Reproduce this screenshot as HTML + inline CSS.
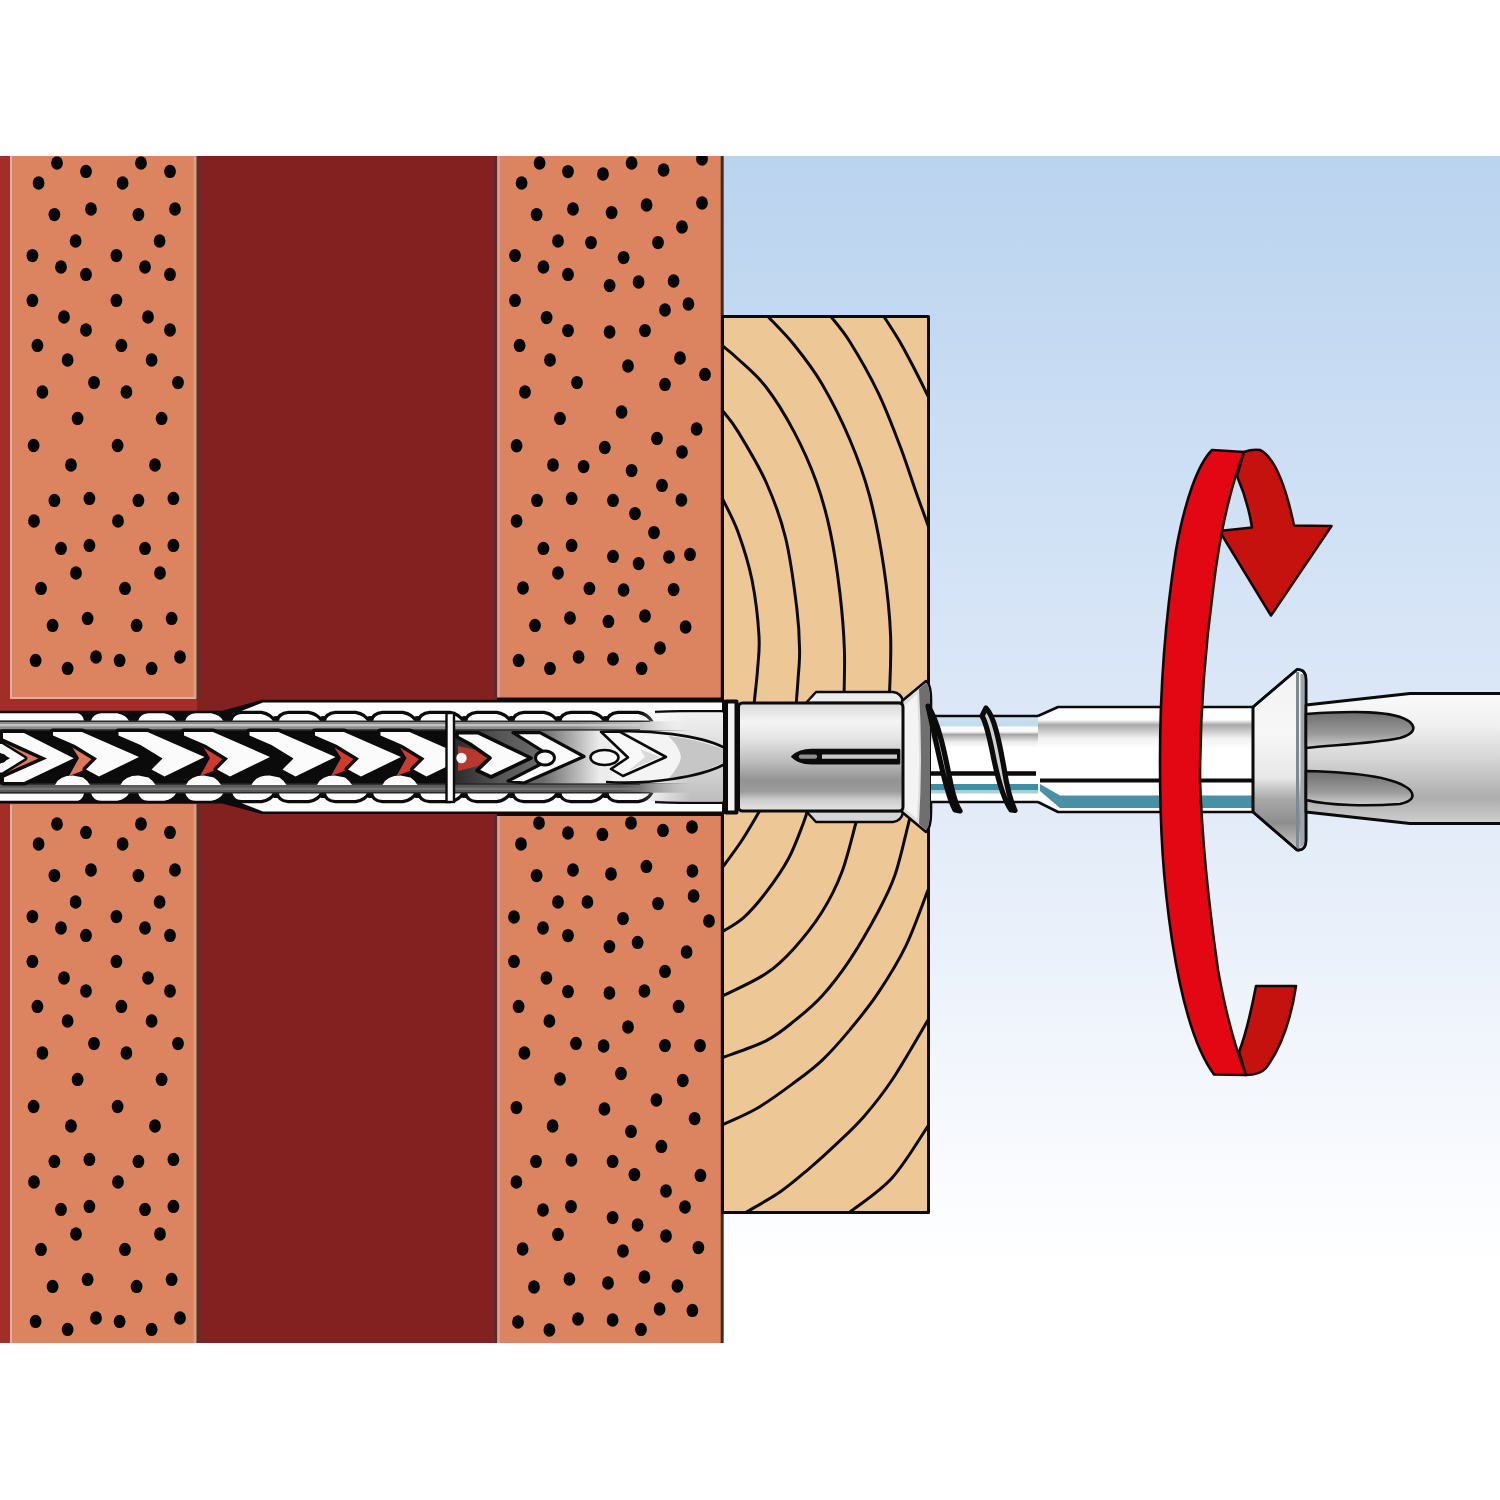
<!DOCTYPE html>
<html lang="en">
<head>
<meta charset="utf-8">
<title>Frame fixing installation – tighten screw</title>
<style>
html,body{margin:0;padding:0;background:#fff;}
body{width:1500px;height:1500px;overflow:hidden;position:relative;font-family:"Liberation Sans",sans-serif;}
svg{position:absolute;left:0;top:0;display:block;}
</style>
</head>
<body>
<svg width="1500" height="1500" viewBox="0 0 1500 1500">
<defs>
<linearGradient id="sky" x1="0" y1="156" x2="0" y2="1343" gradientUnits="userSpaceOnUse">
<stop offset="0" stop-color="#bad3ef"/><stop offset="0.3" stop-color="#d0e1f5"/><stop offset="0.55" stop-color="#e2ebf8"/><stop offset="0.8" stop-color="#f5f8fd"/><stop offset="0.94" stop-color="#ffffff"/>
</linearGradient>
<linearGradient id="metal" x1="0" y1="702" x2="0" y2="811" gradientUnits="userSpaceOnUse">
<stop offset="0" stop-color="#d6d6d6"/><stop offset="0.18" stop-color="#f5f5f5"/><stop offset="0.34" stop-color="#e4e4e4"/><stop offset="0.55" stop-color="#bcbcbc"/><stop offset="0.72" stop-color="#939393"/><stop offset="0.82" stop-color="#9c9c9c"/><stop offset="0.9" stop-color="#cdcdcd"/><stop offset="1" stop-color="#e6e6e6"/>
</linearGradient>
<linearGradient id="shank" x1="0" y1="707" x2="0" y2="812" gradientUnits="userSpaceOnUse">
<stop offset="0" stop-color="#ffffff"/><stop offset="0.12" stop-color="#ffffff"/><stop offset="0.17" stop-color="#a9a9a9"/><stop offset="0.3" stop-color="#f2f2f2"/><stop offset="0.4" stop-color="#ffffff"/><stop offset="1" stop-color="#ffffff"/>
</linearGradient>
<linearGradient id="thin" x1="0" y1="716" x2="0" y2="802" gradientUnits="userSpaceOnUse">
<stop offset="0" stop-color="#cfe2f1"/><stop offset="0.11" stop-color="#c0daee"/><stop offset="0.13" stop-color="#ffffff"/><stop offset="0.185" stop-color="#f4f4f4"/><stop offset="0.215" stop-color="#a4a4a4"/><stop offset="0.3" stop-color="#ebebeb"/><stop offset="0.37" stop-color="#ffffff"/><stop offset="1" stop-color="#ffffff"/>
</linearGradient>
<linearGradient id="head" x1="0" y1="669" x2="0" y2="850" gradientUnits="userSpaceOnUse">
<stop offset="0" stop-color="#f2f2f2"/><stop offset="0.35" stop-color="#f7f7f7"/><stop offset="0.6" stop-color="#e8e8e8"/><stop offset="0.72" stop-color="#a8a8a8"/><stop offset="0.85" stop-color="#8e8e8e"/><stop offset="1" stop-color="#c9c9c9"/>
</linearGradient>
<linearGradient id="bit" x1="0" y1="693" x2="0" y2="824" gradientUnits="userSpaceOnUse">
<stop offset="0" stop-color="#fafafa"/><stop offset="0.25" stop-color="#f0f0f0"/><stop offset="0.5" stop-color="#d6d6d6"/><stop offset="0.8" stop-color="#adadad"/><stop offset="1" stop-color="#d0d0d0"/>
</linearGradient>
<linearGradient id="flute" x1="0" y1="0" x2="0" y2="1">
<stop offset="0" stop-color="#6e6e6e"/><stop offset="0.6" stop-color="#9a9a9a"/><stop offset="1" stop-color="#cfcfcf"/>
</linearGradient>
<linearGradient id="gbt" x1="0" y1="0" x2="722" y2="0" gradientUnits="userSpaceOnUse"><stop offset="0" stop-color="#8d8d8d"/><stop offset="0.8" stop-color="#8d8d8d"/><stop offset="0.9" stop-color="#c8c8c8"/><stop offset="0.94" stop-color="#f6f6f6"/><stop offset="1" stop-color="#f6f6f6"/></linearGradient>
<linearGradient id="gbb" x1="0" y1="0" x2="722" y2="0" gradientUnits="userSpaceOnUse"><stop offset="0" stop-color="#5a5a5a"/><stop offset="0.86" stop-color="#5c5c5c"/><stop offset="0.94" stop-color="#a8a8a8"/><stop offset="1" stop-color="#c4c4c4"/></linearGradient>
<linearGradient id="rsec" x1="455" y1="0" x2="723" y2="0" gradientUnits="userSpaceOnUse"><stop offset="0" stop-color="#2c2c2c"/><stop offset="0.17" stop-color="#565656"/><stop offset="0.33" stop-color="#6c6c6c"/><stop offset="0.45" stop-color="#b4b4b4"/><stop offset="0.54" stop-color="#ececec"/><stop offset="1" stop-color="#f2f2f2"/></linearGradient>
<linearGradient id="rend" x1="0" y1="712" x2="0" y2="802" gradientUnits="userSpaceOnUse"><stop offset="0" stop-color="#f2f2f2"/><stop offset="0.25" stop-color="#e4e4e4"/><stop offset="0.7" stop-color="#cfcfcf"/><stop offset="1" stop-color="#bdbdbd"/></linearGradient>
<linearGradient id="rfade" x1="640" y1="0" x2="690" y2="0" gradientUnits="userSpaceOnUse"><stop offset="0" stop-color="#000"/><stop offset="1" stop-color="#fff"/></linearGradient>
<mask id="rmask" maskUnits="userSpaceOnUse" x="630" y="700" width="100" height="120"><rect x="630" y="700" width="100" height="120" fill="url(#rfade)"/></mask>
<clipPath id="leftsec"><rect x="0" y="728" width="447" height="58"/></clipPath>
<clipPath id="frame"><rect x="0" y="156" width="1500" height="1187"/></clipPath>
<clipPath id="woodclip"><rect x="723" y="317" width="205" height="895"/></clipPath>
</defs>

<rect x="0" y="0" width="1500" height="1500" fill="#ffffff"/>
<g clip-path="url(#frame)">
<!-- sky -->
<rect x="722" y="156" width="778" height="1187" fill="url(#sky)"/>
<!-- wall base -->
<rect x="0" y="156" width="198" height="1187" fill="#a32e27"/>
<rect x="197" y="156" width="301" height="1187" fill="#822120"/>
<!-- bricks -->
<rect x="10" y="150" width="187" height="548.5" fill="#dc8360"/>
<rect x="10" y="804" width="187" height="560" fill="#dc8360"/>
<path d="M11,156V698H196" fill="none" stroke="#d9b5a0" stroke-width="2"/>
<path d="M11,1343V805" fill="none" stroke="#d9b5a0" stroke-width="2"/>
<path d="M194.8,156V698M194.8,805V1343" fill="none" stroke="#d3a28c" stroke-width="2.4"/><path d="M198.4,156V699M198.4,804V1343" fill="none" stroke="#5a302c" stroke-width="3.6"/>
<rect x="497" y="150" width="226" height="552" fill="#dc8360"/>
<rect x="497" y="812" width="226" height="542" fill="#dc8360"/>
<path d="M495.6,156V698M495.6,815V1343" fill="none" stroke="#5c2a28" stroke-width="3"/><path d="M498.6,156V698M498.6,815V1343" fill="none" stroke="#d7a58f" stroke-width="2.4"/>
<path d="M722.2,156V1343" fill="none" stroke="#3a2e2a" stroke-width="3"/>
<path d="M497,699H723M497,814.6H723" fill="none" stroke="#120b09" stroke-width="3"/>
<g fill="#050505"><ellipse cx="57.0" cy="163.0" rx="5.9" ry="6.7"/><ellipse cx="141.0" cy="163.0" rx="5.9" ry="6.7"/><ellipse cx="86.0" cy="171.4" rx="5.9" ry="6.7"/><ellipse cx="170.0" cy="171.4" rx="5.9" ry="6.7"/><ellipse cx="38.6" cy="183.0" rx="5.9" ry="6.7"/><ellipse cx="122.6" cy="183.0" rx="5.9" ry="6.7"/><ellipse cx="54.4" cy="214.6" rx="5.9" ry="6.7"/><ellipse cx="138.4" cy="214.6" rx="5.9" ry="6.7"/><ellipse cx="91.0" cy="209.0" rx="5.9" ry="6.7"/><ellipse cx="175.0" cy="209.0" rx="5.9" ry="6.7"/><ellipse cx="75.6" cy="241.0" rx="5.9" ry="6.7"/><ellipse cx="159.6" cy="241.0" rx="5.9" ry="6.7"/><ellipse cx="32.4" cy="255.6" rx="5.9" ry="6.7"/><ellipse cx="116.4" cy="255.6" rx="5.9" ry="6.7"/><ellipse cx="61.0" cy="267.0" rx="5.9" ry="6.7"/><ellipse cx="145.0" cy="267.0" rx="5.9" ry="6.7"/><ellipse cx="86.0" cy="274.4" rx="5.9" ry="6.7"/><ellipse cx="170.0" cy="274.4" rx="5.9" ry="6.7"/><ellipse cx="32.4" cy="300.4" rx="5.9" ry="6.7"/><ellipse cx="116.4" cy="300.4" rx="5.9" ry="6.7"/><ellipse cx="64.0" cy="317.0" rx="5.9" ry="6.7"/><ellipse cx="148.0" cy="317.0" rx="5.9" ry="6.7"/><ellipse cx="86.0" cy="330.0" rx="5.9" ry="6.7"/><ellipse cx="170.0" cy="330.0" rx="5.9" ry="6.7"/><ellipse cx="37.4" cy="345.4" rx="5.9" ry="6.7"/><ellipse cx="121.4" cy="345.4" rx="5.9" ry="6.7"/><ellipse cx="67.6" cy="360.0" rx="5.9" ry="6.7"/><ellipse cx="151.6" cy="360.0" rx="5.9" ry="6.7"/><ellipse cx="94.0" cy="382.6" rx="5.9" ry="6.7"/><ellipse cx="178.0" cy="382.6" rx="5.9" ry="6.7"/><ellipse cx="42.4" cy="392.0" rx="5.9" ry="6.7"/><ellipse cx="126.4" cy="392.0" rx="5.9" ry="6.7"/><ellipse cx="77.6" cy="418.4" rx="5.9" ry="6.7"/><ellipse cx="161.6" cy="418.4" rx="5.9" ry="6.7"/><ellipse cx="33.6" cy="445.5" rx="5.9" ry="6.7"/><ellipse cx="117.6" cy="445.5" rx="5.9" ry="6.7"/><ellipse cx="71.0" cy="465.0" rx="5.9" ry="6.7"/><ellipse cx="155.0" cy="465.0" rx="5.9" ry="6.7"/><ellipse cx="54.4" cy="500.4" rx="5.9" ry="6.7"/><ellipse cx="138.4" cy="500.4" rx="5.9" ry="6.7"/><ellipse cx="89.4" cy="498.4" rx="5.9" ry="6.7"/><ellipse cx="173.4" cy="498.4" rx="5.9" ry="6.7"/><ellipse cx="34.0" cy="521.0" rx="5.9" ry="6.7"/><ellipse cx="118.0" cy="521.0" rx="5.9" ry="6.7"/><ellipse cx="61.0" cy="548.4" rx="5.9" ry="6.7"/><ellipse cx="145.0" cy="548.4" rx="5.9" ry="6.7"/><ellipse cx="89.4" cy="545.4" rx="5.9" ry="6.7"/><ellipse cx="173.4" cy="545.4" rx="5.9" ry="6.7"/><ellipse cx="76.0" cy="573.0" rx="5.9" ry="6.7"/><ellipse cx="160.0" cy="573.0" rx="5.9" ry="6.7"/><ellipse cx="41.0" cy="588.4" rx="5.9" ry="6.7"/><ellipse cx="125.0" cy="588.4" rx="5.9" ry="6.7"/><ellipse cx="87.6" cy="618.4" rx="5.9" ry="6.7"/><ellipse cx="171.6" cy="618.4" rx="5.9" ry="6.7"/><ellipse cx="52.6" cy="625.4" rx="5.9" ry="6.7"/><ellipse cx="136.6" cy="625.4" rx="5.9" ry="6.7"/><ellipse cx="35.6" cy="660.4" rx="5.9" ry="6.7"/><ellipse cx="119.6" cy="660.4" rx="5.9" ry="6.7"/><ellipse cx="96.0" cy="657.0" rx="5.9" ry="6.7"/><ellipse cx="180.0" cy="657.0" rx="5.9" ry="6.7"/><ellipse cx="67.6" cy="668.4" rx="5.9" ry="6.7"/><ellipse cx="151.6" cy="668.4" rx="5.9" ry="6.7"/><ellipse cx="57.0" cy="824.0" rx="5.9" ry="6.7"/><ellipse cx="141.0" cy="824.0" rx="5.9" ry="6.7"/><ellipse cx="86.0" cy="832.4" rx="5.9" ry="6.7"/><ellipse cx="170.0" cy="832.4" rx="5.9" ry="6.7"/><ellipse cx="38.6" cy="844.0" rx="5.9" ry="6.7"/><ellipse cx="122.6" cy="844.0" rx="5.9" ry="6.7"/><ellipse cx="54.4" cy="875.6" rx="5.9" ry="6.7"/><ellipse cx="138.4" cy="875.6" rx="5.9" ry="6.7"/><ellipse cx="91.0" cy="870.0" rx="5.9" ry="6.7"/><ellipse cx="175.0" cy="870.0" rx="5.9" ry="6.7"/><ellipse cx="75.6" cy="902.0" rx="5.9" ry="6.7"/><ellipse cx="159.6" cy="902.0" rx="5.9" ry="6.7"/><ellipse cx="32.4" cy="916.6" rx="5.9" ry="6.7"/><ellipse cx="116.4" cy="916.6" rx="5.9" ry="6.7"/><ellipse cx="61.0" cy="928.0" rx="5.9" ry="6.7"/><ellipse cx="145.0" cy="928.0" rx="5.9" ry="6.7"/><ellipse cx="86.0" cy="935.4" rx="5.9" ry="6.7"/><ellipse cx="170.0" cy="935.4" rx="5.9" ry="6.7"/><ellipse cx="32.4" cy="961.4" rx="5.9" ry="6.7"/><ellipse cx="116.4" cy="961.4" rx="5.9" ry="6.7"/><ellipse cx="64.0" cy="978.0" rx="5.9" ry="6.7"/><ellipse cx="148.0" cy="978.0" rx="5.9" ry="6.7"/><ellipse cx="86.0" cy="991.0" rx="5.9" ry="6.7"/><ellipse cx="170.0" cy="991.0" rx="5.9" ry="6.7"/><ellipse cx="37.4" cy="1006.4" rx="5.9" ry="6.7"/><ellipse cx="121.4" cy="1006.4" rx="5.9" ry="6.7"/><ellipse cx="67.6" cy="1021.0" rx="5.9" ry="6.7"/><ellipse cx="151.6" cy="1021.0" rx="5.9" ry="6.7"/><ellipse cx="94.0" cy="1043.6" rx="5.9" ry="6.7"/><ellipse cx="178.0" cy="1043.6" rx="5.9" ry="6.7"/><ellipse cx="42.4" cy="1053.0" rx="5.9" ry="6.7"/><ellipse cx="126.4" cy="1053.0" rx="5.9" ry="6.7"/><ellipse cx="77.6" cy="1079.4" rx="5.9" ry="6.7"/><ellipse cx="161.6" cy="1079.4" rx="5.9" ry="6.7"/><ellipse cx="33.6" cy="1106.5" rx="5.9" ry="6.7"/><ellipse cx="117.6" cy="1106.5" rx="5.9" ry="6.7"/><ellipse cx="71.0" cy="1126.0" rx="5.9" ry="6.7"/><ellipse cx="155.0" cy="1126.0" rx="5.9" ry="6.7"/><ellipse cx="54.4" cy="1161.4" rx="5.9" ry="6.7"/><ellipse cx="138.4" cy="1161.4" rx="5.9" ry="6.7"/><ellipse cx="89.4" cy="1159.4" rx="5.9" ry="6.7"/><ellipse cx="173.4" cy="1159.4" rx="5.9" ry="6.7"/><ellipse cx="34.0" cy="1182.0" rx="5.9" ry="6.7"/><ellipse cx="118.0" cy="1182.0" rx="5.9" ry="6.7"/><ellipse cx="61.0" cy="1209.4" rx="5.9" ry="6.7"/><ellipse cx="145.0" cy="1209.4" rx="5.9" ry="6.7"/><ellipse cx="89.4" cy="1206.4" rx="5.9" ry="6.7"/><ellipse cx="173.4" cy="1206.4" rx="5.9" ry="6.7"/><ellipse cx="76.0" cy="1234.0" rx="5.9" ry="6.7"/><ellipse cx="160.0" cy="1234.0" rx="5.9" ry="6.7"/><ellipse cx="41.0" cy="1249.4" rx="5.9" ry="6.7"/><ellipse cx="125.0" cy="1249.4" rx="5.9" ry="6.7"/><ellipse cx="87.6" cy="1279.4" rx="5.9" ry="6.7"/><ellipse cx="171.6" cy="1279.4" rx="5.9" ry="6.7"/><ellipse cx="52.6" cy="1286.4" rx="5.9" ry="6.7"/><ellipse cx="136.6" cy="1286.4" rx="5.9" ry="6.7"/><ellipse cx="35.6" cy="1321.4" rx="5.9" ry="6.7"/><ellipse cx="119.6" cy="1321.4" rx="5.9" ry="6.7"/><ellipse cx="96.0" cy="1318.0" rx="5.9" ry="6.7"/><ellipse cx="180.0" cy="1318.0" rx="5.9" ry="6.7"/><ellipse cx="67.6" cy="1329.4" rx="5.9" ry="6.7"/><ellipse cx="151.6" cy="1329.4" rx="5.9" ry="6.7"/><ellipse cx="539.6" cy="163.0" rx="5.9" ry="6.7"/><ellipse cx="631.6" cy="163.0" rx="5.9" ry="6.7"/><ellipse cx="702.0" cy="159.0" rx="5.9" ry="6.7"/><ellipse cx="568.0" cy="171.6" rx="5.9" ry="6.7"/><ellipse cx="603.0" cy="174.0" rx="5.9" ry="6.7"/><ellipse cx="663.6" cy="170.0" rx="5.9" ry="6.7"/><ellipse cx="521.6" cy="183.0" rx="5.9" ry="6.7"/><ellipse cx="573.0" cy="209.0" rx="5.9" ry="6.7"/><ellipse cx="536.6" cy="214.6" rx="5.9" ry="6.7"/><ellipse cx="611.6" cy="212.6" rx="5.9" ry="6.7"/><ellipse cx="646.6" cy="205.0" rx="5.9" ry="6.7"/><ellipse cx="702.0" cy="203.0" rx="5.9" ry="6.7"/><ellipse cx="682.0" cy="227.0" rx="5.9" ry="6.7"/><ellipse cx="558.0" cy="241.0" rx="5.9" ry="6.7"/><ellipse cx="591.0" cy="242.6" rx="5.9" ry="6.7"/><ellipse cx="658.0" cy="242.6" rx="5.9" ry="6.7"/><ellipse cx="515.0" cy="255.6" rx="5.9" ry="6.7"/><ellipse cx="623.6" cy="257.6" rx="5.9" ry="6.7"/><ellipse cx="543.4" cy="267.0" rx="5.9" ry="6.7"/><ellipse cx="568.0" cy="274.4" rx="5.9" ry="6.7"/><ellipse cx="609.6" cy="285.6" rx="5.9" ry="6.7"/><ellipse cx="638.6" cy="282.0" rx="5.9" ry="6.7"/><ellipse cx="673.6" cy="281.0" rx="5.9" ry="6.7"/><ellipse cx="515.0" cy="300.4" rx="5.9" ry="6.7"/><ellipse cx="688.4" cy="304.0" rx="5.9" ry="6.7"/><ellipse cx="665.0" cy="310.0" rx="5.9" ry="6.7"/><ellipse cx="546.6" cy="317.6" rx="5.9" ry="6.7"/><ellipse cx="568.0" cy="330.6" rx="5.9" ry="6.7"/><ellipse cx="609.6" cy="332.0" rx="5.9" ry="6.7"/><ellipse cx="645.0" cy="330.6" rx="5.9" ry="6.7"/><ellipse cx="519.6" cy="345.4" rx="5.9" ry="6.7"/><ellipse cx="550.0" cy="360.0" rx="5.9" ry="6.7"/><ellipse cx="680.0" cy="358.0" rx="5.9" ry="6.7"/><ellipse cx="628.0" cy="366.0" rx="5.9" ry="6.7"/><ellipse cx="705.0" cy="374.4" rx="5.9" ry="6.7"/><ellipse cx="577.0" cy="382.6" rx="5.9" ry="6.7"/><ellipse cx="665.0" cy="384.4" rx="5.9" ry="6.7"/><ellipse cx="525.0" cy="392.0" rx="5.9" ry="6.7"/><ellipse cx="621.6" cy="412.0" rx="5.9" ry="6.7"/><ellipse cx="560.0" cy="418.4" rx="5.9" ry="6.7"/><ellipse cx="696.6" cy="429.0" rx="5.9" ry="6.7"/><ellipse cx="657.0" cy="438.5" rx="5.9" ry="6.7"/><ellipse cx="516.6" cy="445.8" rx="5.9" ry="6.7"/><ellipse cx="604.8" cy="447.5" rx="5.9" ry="6.7"/><ellipse cx="682.0" cy="452.0" rx="5.9" ry="6.7"/><ellipse cx="553.0" cy="465.0" rx="5.9" ry="6.7"/><ellipse cx="583.6" cy="466.6" rx="5.9" ry="6.7"/><ellipse cx="631.6" cy="470.6" rx="5.9" ry="6.7"/><ellipse cx="662.0" cy="485.4" rx="5.9" ry="6.7"/><ellipse cx="537.0" cy="500.4" rx="5.9" ry="6.7"/><ellipse cx="571.6" cy="498.4" rx="5.9" ry="6.7"/><ellipse cx="613.0" cy="500.4" rx="5.9" ry="6.7"/><ellipse cx="681.4" cy="500.0" rx="5.9" ry="6.7"/><ellipse cx="635.0" cy="513.6" rx="5.9" ry="6.7"/><ellipse cx="516.6" cy="521.0" rx="5.9" ry="6.7"/><ellipse cx="654.0" cy="532.6" rx="5.9" ry="6.7"/><ellipse cx="543.4" cy="548.4" rx="5.9" ry="6.7"/><ellipse cx="571.6" cy="545.4" rx="5.9" ry="6.7"/><ellipse cx="613.0" cy="556.4" rx="5.9" ry="6.7"/><ellipse cx="638.6" cy="563.6" rx="5.9" ry="6.7"/><ellipse cx="669.0" cy="557.0" rx="5.9" ry="6.7"/><ellipse cx="690.0" cy="554.4" rx="5.9" ry="6.7"/><ellipse cx="558.0" cy="573.0" rx="5.9" ry="6.7"/><ellipse cx="523.0" cy="588.0" rx="5.9" ry="6.7"/><ellipse cx="589.4" cy="588.4" rx="5.9" ry="6.7"/><ellipse cx="623.6" cy="590.0" rx="5.9" ry="6.7"/><ellipse cx="673.6" cy="589.6" rx="5.9" ry="6.7"/><ellipse cx="570.0" cy="618.0" rx="5.9" ry="6.7"/><ellipse cx="535.0" cy="625.4" rx="5.9" ry="6.7"/><ellipse cx="608.4" cy="621.4" rx="5.9" ry="6.7"/><ellipse cx="645.0" cy="616.0" rx="5.9" ry="6.7"/><ellipse cx="685.6" cy="627.0" rx="5.9" ry="6.7"/><ellipse cx="660.0" cy="648.0" rx="5.9" ry="6.7"/><ellipse cx="518.6" cy="660.4" rx="5.9" ry="6.7"/><ellipse cx="578.6" cy="657.0" rx="5.9" ry="6.7"/><ellipse cx="550.0" cy="668.4" rx="5.9" ry="6.7"/><ellipse cx="613.0" cy="659.0" rx="5.9" ry="6.7"/><ellipse cx="641.6" cy="668.4" rx="5.9" ry="6.7"/><ellipse cx="539.0" cy="823.0" rx="5.9" ry="6.7"/><ellipse cx="631.0" cy="823.0" rx="5.9" ry="6.7"/><ellipse cx="692.0" cy="827.0" rx="5.9" ry="6.7"/><ellipse cx="568.0" cy="833.0" rx="5.9" ry="6.7"/><ellipse cx="602.4" cy="834.4" rx="5.9" ry="6.7"/><ellipse cx="663.0" cy="830.4" rx="5.9" ry="6.7"/><ellipse cx="521.0" cy="844.0" rx="5.9" ry="6.7"/><ellipse cx="573.0" cy="870.0" rx="5.9" ry="6.7"/><ellipse cx="536.6" cy="875.6" rx="5.9" ry="6.7"/><ellipse cx="611.0" cy="874.0" rx="5.9" ry="6.7"/><ellipse cx="646.4" cy="866.4" rx="5.9" ry="6.7"/><ellipse cx="692.4" cy="871.0" rx="5.9" ry="6.7"/><ellipse cx="558.0" cy="902.0" rx="5.9" ry="6.7"/><ellipse cx="587.4" cy="902.0" rx="5.9" ry="6.7"/><ellipse cx="658.0" cy="903.6" rx="5.9" ry="6.7"/><ellipse cx="693.6" cy="896.0" rx="5.9" ry="6.7"/><ellipse cx="514.0" cy="917.0" rx="5.9" ry="6.7"/><ellipse cx="623.0" cy="918.6" rx="5.9" ry="6.7"/><ellipse cx="709.0" cy="921.0" rx="5.9" ry="6.7"/><ellipse cx="543.0" cy="928.0" rx="5.9" ry="6.7"/><ellipse cx="568.0" cy="935.6" rx="5.9" ry="6.7"/><ellipse cx="609.4" cy="946.6" rx="5.9" ry="6.7"/><ellipse cx="637.6" cy="942.4" rx="5.9" ry="6.7"/><ellipse cx="686.6" cy="952.0" rx="5.9" ry="6.7"/><ellipse cx="514.0" cy="961.4" rx="5.9" ry="6.7"/><ellipse cx="665.0" cy="971.4" rx="5.9" ry="6.7"/><ellipse cx="546.4" cy="978.0" rx="5.9" ry="6.7"/><ellipse cx="568.0" cy="991.6" rx="5.9" ry="6.7"/><ellipse cx="609.4" cy="993.0" rx="5.9" ry="6.7"/><ellipse cx="644.4" cy="991.0" rx="5.9" ry="6.7"/><ellipse cx="518.6" cy="1006.4" rx="5.9" ry="6.7"/><ellipse cx="678.6" cy="1006.4" rx="5.9" ry="6.7"/><ellipse cx="549.4" cy="1021.0" rx="5.9" ry="6.7"/><ellipse cx="628.0" cy="1027.0" rx="5.9" ry="6.7"/><ellipse cx="576.0" cy="1043.4" rx="5.9" ry="6.7"/><ellipse cx="603.6" cy="1046.0" rx="5.9" ry="6.7"/><ellipse cx="665.0" cy="1045.6" rx="5.9" ry="6.7"/><ellipse cx="700.0" cy="1045.6" rx="5.9" ry="6.7"/><ellipse cx="524.4" cy="1053.0" rx="5.9" ry="6.7"/><ellipse cx="621.0" cy="1073.5" rx="5.9" ry="6.7"/><ellipse cx="560.0" cy="1079.0" rx="5.9" ry="6.7"/><ellipse cx="682.8" cy="1080.5" rx="5.9" ry="6.7"/><ellipse cx="516.4" cy="1107.6" rx="5.9" ry="6.7"/><ellipse cx="604.4" cy="1109.0" rx="5.9" ry="6.7"/><ellipse cx="656.4" cy="1100.0" rx="5.9" ry="6.7"/><ellipse cx="694.6" cy="1118.6" rx="5.9" ry="6.7"/><ellipse cx="552.6" cy="1126.0" rx="5.9" ry="6.7"/><ellipse cx="631.0" cy="1131.4" rx="5.9" ry="6.7"/><ellipse cx="661.4" cy="1146.4" rx="5.9" ry="6.7"/><ellipse cx="536.0" cy="1161.4" rx="5.9" ry="6.7"/><ellipse cx="571.4" cy="1160.0" rx="5.9" ry="6.7"/><ellipse cx="612.6" cy="1161.4" rx="5.9" ry="6.7"/><ellipse cx="634.4" cy="1174.6" rx="5.9" ry="6.7"/><ellipse cx="700.4" cy="1175.4" rx="5.9" ry="6.7"/><ellipse cx="516.4" cy="1182.0" rx="5.9" ry="6.7"/><ellipse cx="666.0" cy="1191.0" rx="5.9" ry="6.7"/><ellipse cx="543.0" cy="1210.0" rx="5.9" ry="6.7"/><ellipse cx="571.0" cy="1206.6" rx="5.9" ry="6.7"/><ellipse cx="685.0" cy="1207.0" rx="5.9" ry="6.7"/><ellipse cx="612.6" cy="1217.6" rx="5.9" ry="6.7"/><ellipse cx="637.6" cy="1225.0" rx="5.9" ry="6.7"/><ellipse cx="558.0" cy="1234.4" rx="5.9" ry="6.7"/><ellipse cx="666.0" cy="1236.0" rx="5.9" ry="6.7"/><ellipse cx="522.6" cy="1249.0" rx="5.9" ry="6.7"/><ellipse cx="623.0" cy="1251.0" rx="5.9" ry="6.7"/><ellipse cx="698.4" cy="1247.6" rx="5.9" ry="6.7"/><ellipse cx="569.4" cy="1279.0" rx="5.9" ry="6.7"/><ellipse cx="534.0" cy="1287.0" rx="5.9" ry="6.7"/><ellipse cx="608.0" cy="1283.0" rx="5.9" ry="6.7"/><ellipse cx="644.4" cy="1277.0" rx="5.9" ry="6.7"/><ellipse cx="677.4" cy="1286.0" rx="5.9" ry="6.7"/><ellipse cx="659.6" cy="1309.0" rx="5.9" ry="6.7"/><ellipse cx="692.4" cy="1310.4" rx="5.9" ry="6.7"/><ellipse cx="518.0" cy="1322.0" rx="5.9" ry="6.7"/><ellipse cx="578.0" cy="1319.0" rx="5.9" ry="6.7"/><ellipse cx="549.4" cy="1330.0" rx="5.9" ry="6.7"/><ellipse cx="612.6" cy="1320.0" rx="5.9" ry="6.7"/><ellipse cx="641.0" cy="1329.4" rx="5.9" ry="6.7"/></g>
<!-- wood -->
<rect x="722.5" y="316.5" width="206" height="896" fill="#eec797" stroke="#0b0b0b" stroke-width="3" stroke-linejoin="round"/>
<g clip-path="url(#woodclip)" fill="none" stroke="#0b0b0b" stroke-width="3" stroke-linecap="round"><path d="M722.6,499.0 C725.2,504.5 733.1,518.5 738.0,532.0 C742.9,545.5 748.5,562.7 752.0,580.0 C755.5,597.3 758.1,621.0 759.0,636.0 C759.9,651.0 758.2,659.3 757.5,670.0 C756.8,680.7 755.2,692.3 754.5,700.0 C753.8,707.7 753.2,713.3 753.0,716.0"/><path d="M722.6,410.6 C725.2,414.1 730.8,419.7 738.0,431.6 C745.2,443.5 758.1,464.3 766.0,482.0 C773.9,499.7 780.5,517.0 785.6,538.0 C790.7,559.0 794.5,589.3 796.8,608.0 C799.1,626.7 799.4,638.0 799.6,650.0 C799.8,662.0 798.5,671.7 798.0,680.0 C797.5,688.3 796.9,694.0 796.5,700.0 C796.1,706.0 795.7,713.3 795.5,716.0"/><path d="M722.6,346.0 C725.2,348.2 730.8,352.2 738.0,359.0 C745.2,365.8 756.7,374.9 766.0,387.0 C775.3,399.1 785.6,415.8 794.0,431.6 C802.4,447.4 810.3,465.2 816.4,482.0 C822.5,498.8 826.5,513.7 830.4,532.4 C834.3,551.1 837.7,574.4 840.0,594.0 C842.3,613.6 843.8,631.5 844.4,650.0 C845.0,668.5 843.9,695.8 843.8,705.0"/><path d="M767.4,316.0 C771.8,320.8 784.9,333.5 794.0,344.8 C803.1,356.1 812.7,368.1 822.0,384.0 C831.3,399.9 842.1,421.3 850.0,440.0 C857.9,458.7 864.0,475.0 869.6,496.0 C875.2,517.0 880.1,542.7 883.6,566.0 C887.1,589.3 889.7,612.8 890.6,636.0 C891.5,659.2 889.3,693.5 889.0,705.0"/><path d="M830.4,316.0 C833.7,320.3 842.1,329.3 850.0,342.0 C857.9,354.7 869.6,374.9 878.0,392.4 C886.4,409.9 894.1,430.4 900.4,447.0 C906.7,463.6 911.2,478.5 916.0,492.0 C920.8,505.5 926.8,522.0 929.0,528.0"/><path d="M883.6,316.0 C886.3,320.3 894.8,333.0 900.0,342.0 C905.2,351.0 910.3,361.0 915.0,370.0 C919.7,379.0 925.8,391.7 928.0,396.0"/><path d="M766.0,800.0 C764.8,802.0 763.2,805.0 759.0,812.0 C754.8,819.0 746.9,832.8 740.8,842.0 C734.7,851.2 725.6,863.0 722.6,867.2"/><path d="M808.0,808.0 C807.3,810.3 807.1,813.5 803.8,822.0 C800.5,830.5 794.7,847.1 788.4,858.8 C782.1,870.5 773.5,882.6 766.0,892.4 C758.5,902.2 750.8,911.1 743.6,917.6 C736.4,924.1 726.1,929.3 722.6,931.6"/><path d="M859.0,810.0 C858.4,812.3 858.5,813.5 855.6,824.0 C852.7,834.5 847.2,858.1 841.6,872.8 C836.0,887.5 829.9,899.4 822.0,912.0 C814.1,924.6 803.3,938.1 794.0,948.4 C784.7,958.7 777.9,965.7 766.0,973.6 C754.1,981.5 729.8,992.3 722.6,996.0"/><path d="M911.0,812.0 C910.4,814.7 910.1,817.4 907.4,828.0 C904.7,838.6 899.7,861.6 894.8,875.6 C889.9,889.6 885.5,898.0 878.0,912.0 C870.5,926.0 859.3,945.6 850.0,959.6 C840.7,973.6 831.3,985.7 822.0,996.0 C812.7,1006.3 803.3,1013.7 794.0,1021.2 C784.7,1028.7 777.9,1034.7 766.0,1040.8 C754.1,1046.9 729.8,1054.8 722.6,1057.6"/><path d="M928.0,890.0 C924.3,899.3 914.3,928.4 906.0,945.6 C897.7,962.8 887.3,979.2 878.0,993.2 C868.7,1007.2 859.3,1018.4 850.0,1029.6 C840.7,1040.8 831.3,1051.5 822.0,1060.4 C812.7,1069.3 804.7,1074.9 794.0,1082.8 C783.3,1090.7 769.5,1101.0 757.6,1108.0 C745.7,1115.0 728.4,1122.0 722.6,1124.8"/><path d="M928.0,1020.0 C922.0,1030.0 902.7,1063.9 892.0,1080.0 C881.3,1096.1 873.3,1105.7 864.0,1116.4 C854.7,1127.1 845.3,1135.5 836.0,1144.4 C826.7,1153.3 817.3,1161.7 808.0,1169.6 C798.7,1177.5 790.3,1184.9 780.0,1192.0 C769.7,1199.1 752.0,1208.7 746.4,1212.0"/><path d="M928.0,1126.0 C922.0,1134.7 905.0,1163.7 892.0,1178.0 C879.0,1192.3 857.0,1206.3 850.0,1212.0"/></g>
<g id="anchor"><path d="M0,710.8 L222,710.8 L262,699.8 L725,699.8 L725,814 L262,814 L222,803.4 L0,803.4Z" fill="#0b0b0b"/><path d="M240,711.5 L263,702.6 L722,702.6 L722,722.5 L240,722.5Z" fill="#fdfdfd"/><path d="M0,713.3 L78,713.3 Q83,715 84,720.8 L0,720.8Z" fill="#fdfdfd"/><path d="M91.0,721 Q93.0,713.6 101.0,713.2 L117.1,713.2 Q126.1,715 129.1,721Z" fill="#fdfdfd"/><path d="M138.1,721 Q140.1,713.6 148.1,713.2 L164.2,713.2 Q173.2,715 176.2,721Z" fill="#fdfdfd"/><path d="M185.2,721 Q187.2,713.6 195.2,713.2 L211.3,713.2 Q220.3,715 223.3,721Z" fill="#fdfdfd"/><path d="M232.3,721 Q234.3,713.6 242.3,713.2 L258.4,713.2 Q267.4,715 270.4,721Z" fill="#fdfdfd"/><path d="M229.3,722 Q231.3,713 241.3,712.3 L261.4,712.3 Q271.4,714 275.4,722" fill="none" stroke="#0b0b0b" stroke-width="3.3"/><circle cx="228.8" cy="719.3" r="3.4" fill="#0b0b0b"/><path d="M276.4,722 Q278.4,713 288.4,712.3 L308.5,712.3 Q318.5,714 322.5,722" fill="none" stroke="#0b0b0b" stroke-width="3.3"/><circle cx="275.9" cy="719.3" r="3.4" fill="#0b0b0b"/><path d="M323.5,722 Q325.5,713 335.5,712.3 L355.6,712.3 Q365.6,714 369.6,722" fill="none" stroke="#0b0b0b" stroke-width="3.3"/><circle cx="323.0" cy="719.3" r="3.4" fill="#0b0b0b"/><path d="M370.6,722 Q372.6,713 382.6,712.3 L402.7,712.3 Q412.7,714 416.7,722" fill="none" stroke="#0b0b0b" stroke-width="3.3"/><circle cx="370.1" cy="719.3" r="3.4" fill="#0b0b0b"/><path d="M417.7,722 Q419.7,713 429.7,712.3 L449.8,712.3 Q459.8,714 463.8,722" fill="none" stroke="#0b0b0b" stroke-width="3.3"/><circle cx="417.2" cy="719.3" r="3.4" fill="#0b0b0b"/><path d="M464.8,722 Q466.8,713 476.8,712.3 L496.9,712.3 Q506.9,714 510.9,722" fill="none" stroke="#0b0b0b" stroke-width="3.3"/><circle cx="464.3" cy="719.3" r="3.4" fill="#0b0b0b"/><path d="M511.9,722 Q513.9,713 523.9,712.3 L544.0,712.3 Q554.0,714 558.0,722" fill="none" stroke="#0b0b0b" stroke-width="3.3"/><circle cx="511.4" cy="719.3" r="3.4" fill="#0b0b0b"/><path d="M559.0,722 Q561.0,713 571.0,712.3 L591.1,712.3 Q601.1,714 605.1,722" fill="none" stroke="#0b0b0b" stroke-width="3.3"/><circle cx="558.5" cy="719.3" r="3.4" fill="#0b0b0b"/><path d="M606.1,722 Q608.1,713 618.1,712.3 L638.2,712.3 Q648.2,714 652.2,722" fill="none" stroke="#0b0b0b" stroke-width="3.3"/><circle cx="605.6" cy="719.3" r="3.4" fill="#0b0b0b"/><path d="M655,712 Q668,711.3 680,711.3 H722" fill="none" stroke="#0b0b0b" stroke-width="2.6"/><rect x="0" y="721.3" width="722" height="8.7" fill="url(#gbt)"/><rect x="0" y="724" width="640" height="2.4" fill="#cfcfcf" opacity="0.8"/><path d="M0,721.2H650M0,730H640" stroke="#2a2a2a" stroke-width="1.5" fill="none"/><g transform="matrix(1 0 0 -1 0 1514)"><path d="M240,711.5 L263,702.6 L722,702.6 L722,722.5 L240,722.5Z" fill="#fdfdfd"/><path d="M0,713.3 L78,713.3 Q83,715 84,720.8 L0,720.8Z" fill="#fdfdfd"/><path d="M91.0,721 Q93.0,713.6 101.0,713.2 L117.1,713.2 Q126.1,715 129.1,721Z" fill="#fdfdfd"/><path d="M138.1,721 Q140.1,713.6 148.1,713.2 L164.2,713.2 Q173.2,715 176.2,721Z" fill="#fdfdfd"/><path d="M185.2,721 Q187.2,713.6 195.2,713.2 L211.3,713.2 Q220.3,715 223.3,721Z" fill="#fdfdfd"/><path d="M232.3,721 Q234.3,713.6 242.3,713.2 L258.4,713.2 Q267.4,715 270.4,721Z" fill="#fdfdfd"/><path d="M229.3,722 Q231.3,713 241.3,712.3 L261.4,712.3 Q271.4,714 275.4,722" fill="none" stroke="#0b0b0b" stroke-width="3.3"/><circle cx="228.8" cy="719.3" r="3.4" fill="#0b0b0b"/><path d="M276.4,722 Q278.4,713 288.4,712.3 L308.5,712.3 Q318.5,714 322.5,722" fill="none" stroke="#0b0b0b" stroke-width="3.3"/><circle cx="275.9" cy="719.3" r="3.4" fill="#0b0b0b"/><path d="M323.5,722 Q325.5,713 335.5,712.3 L355.6,712.3 Q365.6,714 369.6,722" fill="none" stroke="#0b0b0b" stroke-width="3.3"/><circle cx="323.0" cy="719.3" r="3.4" fill="#0b0b0b"/><path d="M370.6,722 Q372.6,713 382.6,712.3 L402.7,712.3 Q412.7,714 416.7,722" fill="none" stroke="#0b0b0b" stroke-width="3.3"/><circle cx="370.1" cy="719.3" r="3.4" fill="#0b0b0b"/><path d="M417.7,722 Q419.7,713 429.7,712.3 L449.8,712.3 Q459.8,714 463.8,722" fill="none" stroke="#0b0b0b" stroke-width="3.3"/><circle cx="417.2" cy="719.3" r="3.4" fill="#0b0b0b"/><path d="M464.8,722 Q466.8,713 476.8,712.3 L496.9,712.3 Q506.9,714 510.9,722" fill="none" stroke="#0b0b0b" stroke-width="3.3"/><circle cx="464.3" cy="719.3" r="3.4" fill="#0b0b0b"/><path d="M511.9,722 Q513.9,713 523.9,712.3 L544.0,712.3 Q554.0,714 558.0,722" fill="none" stroke="#0b0b0b" stroke-width="3.3"/><circle cx="511.4" cy="719.3" r="3.4" fill="#0b0b0b"/><path d="M559.0,722 Q561.0,713 571.0,712.3 L591.1,712.3 Q601.1,714 605.1,722" fill="none" stroke="#0b0b0b" stroke-width="3.3"/><circle cx="558.5" cy="719.3" r="3.4" fill="#0b0b0b"/><path d="M606.1,722 Q608.1,713 618.1,712.3 L638.2,712.3 Q648.2,714 652.2,722" fill="none" stroke="#0b0b0b" stroke-width="3.3"/><circle cx="605.6" cy="719.3" r="3.4" fill="#0b0b0b"/><path d="M655,712 Q668,711.3 680,711.3 H722" fill="none" stroke="#0b0b0b" stroke-width="2.6"/><rect x="0" y="721.3" width="722" height="8.7" fill="url(#gbb)"/><rect x="0" y="724" width="640" height="2.4" fill="#7c7c7c" opacity="0.8"/><path d="M0,721.2H650M0,730H640" stroke="#2a2a2a" stroke-width="1.5" fill="none"/></g><rect x="455" y="730.6" width="268" height="52.8" fill="url(#rsec)"/><rect x="640" y="712.5" width="83" height="89" fill="url(#rend)" mask="url(#rmask)"/><path d="M612,732.5 C650,729 700,736 723,747 L723,765 C700,776 650,784 612,781.5 Z" fill="#f4f4f4"/><path d="M668,736 C690,738 710,744 723,749 L723,763 C710,769 690,776 668,779 C676,770 680,764 681,757 C680,750 676,743 668,736Z" fill="#c6c6c6"/><path d="M606,732 C650,729 700,735.5 724,747.5 M606,782 C650,785 700,777 724,764.5" fill="none" stroke="#0b0b0b" stroke-width="2.6"/><polygon points="601.0,731.8 620.0,731.8 666.0,757.0 623.0,776.0 611.0,769.0 628.0,757.5" fill="#f8f8f8" stroke="#0b0b0b" stroke-width="2.6" stroke-linejoin="round"/><polygon points="640.0,749.0 660.0,757.0 628.0,771.0 645.0,757.0" fill="#d9d9d9"/><ellipse cx="604.5" cy="757.5" rx="14" ry="7.5" fill="#f8f8f8" stroke="#0b0b0b" stroke-width="2.6"/><polygon points="513.0,732.7 540.0,732.7 584.0,756.5 524.0,783.0 508.0,781.0 545.0,762.0 552.0,757.0" fill="#fbfbfb" stroke="#0b0b0b" stroke-width="3.2" stroke-linejoin="round"/><ellipse cx="545" cy="758" rx="9.5" ry="7" fill="#fbfbfb" stroke="#0b0b0b" stroke-width="3"/><polygon points="458.0,746.0 476.0,750.0 488.0,757.0 478.0,766.0 458.0,771.0" fill="#b8392c"/><circle cx="461.5" cy="758" r="5.2" fill="#fbfbfb"/><polygon points="457.0,732.7 478.0,732.7 531.0,758.0 491.0,777.0 477.0,770.5 490.0,758.0 470.0,744.0 457.0,737.0" fill="#fbfbfb" stroke="#0b0b0b" stroke-width="3.6" stroke-linejoin="round"/><g clip-path="url(#leftsec)"><polygon points="396.5,742.0 419.5,753.5 424.5,758.5 414.5,769.0 396.5,776.0 406.5,758.0" fill="#cf3a2e"/><polygon points="380.5,732.0 409.5,732.0 466.5,757.0 426.5,776.5 413.5,769.5 424.5,758.5 402.5,745.0 380.5,735.5" fill="#fbfbfb" stroke="#0b0b0b" stroke-width="7" stroke-linejoin="round" paint-order="stroke"/><path d="M382.5,785 Q386.5,775.5 400.5,775.5 L410.5,777.5 Q415.5,781 417.5,785Z" fill="#fbfbfb"/><polygon points="331.0,742.0 354.0,753.5 359.0,758.5 349.0,769.0 331.0,776.0 341.0,758.0" fill="#cf3a2e"/><polygon points="315.0,732.0 344.0,732.0 401.0,757.0 361.0,776.5 348.0,769.5 359.0,758.5 337.0,745.0 315.0,735.5" fill="#fbfbfb" stroke="#0b0b0b" stroke-width="7" stroke-linejoin="round" paint-order="stroke"/><path d="M317.0,785 Q321.0,775.5 335.0,775.5 L345.0,777.5 Q350.0,781 352.0,785Z" fill="#fbfbfb"/><polygon points="249.5,732.0 278.5,732.0 335.5,757.0 295.5,776.5 282.5,769.5 293.5,758.5 271.5,745.0 249.5,735.5" fill="#fbfbfb" stroke="#0b0b0b" stroke-width="7" stroke-linejoin="round" paint-order="stroke"/><path d="M251.5,785 Q255.5,775.5 269.5,775.5 L279.5,777.5 Q284.5,781 286.5,785Z" fill="#fbfbfb"/><polygon points="200.0,742.0 223.0,753.5 228.0,758.5 218.0,769.0 200.0,776.0 210.0,758.0" fill="#cf3a2e"/><polygon points="184.0,732.0 213.0,732.0 270.0,757.0 230.0,776.5 217.0,769.5 228.0,758.5 206.0,745.0 184.0,735.5" fill="#fbfbfb" stroke="#0b0b0b" stroke-width="7" stroke-linejoin="round" paint-order="stroke"/><path d="M186.0,785 Q190.0,775.5 204.0,775.5 L214.0,777.5 Q219.0,781 221.0,785Z" fill="#fbfbfb"/><polygon points="118.5,732.0 147.5,732.0 204.5,757.0 164.5,776.5 151.5,769.5 162.5,758.5 140.5,745.0 118.5,735.5" fill="#fbfbfb" stroke="#0b0b0b" stroke-width="7" stroke-linejoin="round" paint-order="stroke"/><path d="M120.5,785 Q124.5,775.5 138.5,775.5 L148.5,777.5 Q153.5,781 155.5,785Z" fill="#fbfbfb"/><polygon points="69.0,742.0 92.0,753.5 97.0,758.5 87.0,769.0 69.0,776.0 79.0,758.0" fill="#e0765a"/><polygon points="53.0,732.0 82.0,732.0 139.0,757.0 99.0,776.5 86.0,769.5 97.0,758.5 75.0,745.0 53.0,735.5" fill="#fbfbfb" stroke="#0b0b0b" stroke-width="7" stroke-linejoin="round" paint-order="stroke"/><path d="M55.0,785 Q59.0,775.5 73.0,775.5 L83.0,777.5 Q88.0,781 90.0,785Z" fill="#fbfbfb"/><polygon points="4.0,740.0 52.0,758.5 4.0,777.0" fill="#e0765a"/><polygon points="3.0,733.0 24.0,733.0 73.7,758.3 24.0,782.0 4.0,782.0 4.0,777.5 47.0,758.5 3.0,738.5" fill="#fbfbfb" stroke="#0b0b0b" stroke-width="7" stroke-linejoin="round" paint-order="stroke"/><polygon points="-4.0,744.0 2.0,744.0 25.0,758.3 2.0,772.5 -4.0,772.5 -4.0,766.0 10.0,758.3 -4.0,750.5" fill="#fbfbfb" stroke="#0b0b0b" stroke-width="5" stroke-linejoin="round" paint-order="stroke"/><circle cx="2" cy="758.3" r="4.5" fill="#0b0b0b"/></g><rect x="446.5" y="713" width="7.5" height="89" fill="#fbfbfb" stroke="#0b0b0b" stroke-width="2.4"/></g>
<g id="collar" stroke-linejoin="round"><rect x="726" y="701.5" width="10.5" height="111" fill="#f3f3f3" stroke="#0b0b0b" stroke-width="4"/><path d="M806,703 L816,692 L893,692 Q901,693 903,701 L903,703Z" fill="#ececec" stroke="#0b0b0b" stroke-width="2.6"/><path d="M806,811 L816,822 L893,822 Q901,821 903,813 L903,811Z" fill="#d6d6d6" stroke="#0b0b0b" stroke-width="2.6"/><path d="M902,701 L926,681 Q931,684 931,700 L931,812 Q931,828 926,832 L902,812Z" fill="#dedede" stroke="#0b0b0b" stroke-width="2.6"/><path d="M919,689 L926,683 Q930,686 930,700 L930,812 Q930,826 926,830 L919,824 Q923,757 919,689Z" fill="#6f6f6f"/><path d="M904,706 L917,694 Q921,757 917,819 L904,808Z" fill="#f4f4f4"/><rect x="738.5" y="703" width="164.5" height="108" rx="4" fill="url(#metal)" stroke="#0b0b0b" stroke-width="3"/><path d="M792.5,756.6 Q800,749.6 813,750 L899,750 L899,763.2 L813,763.2 Q800,763.6 792.5,756.6Z" fill="#0b0b0b" stroke="#0b0b0b" stroke-width="2.6"/><path d="M801,756.6H815" stroke="#8f8f8f" stroke-width="4.4" stroke-linecap="round" fill="none"/><path d="M822,756.6H897" stroke="#c9c9c9" stroke-width="4.4" fill="none"/></g>
<g id="screw" stroke-linejoin="round"><rect x="931" y="716" width="112" height="86" fill="url(#thin)"/><rect x="931" y="784" width="112" height="6.5" fill="#3f8ea4"/><rect x="931" y="790.5" width="112" height="3" fill="#a9cfdc"/><path d="M931,716H1040M931,802H1040" stroke="#0b0b0b" stroke-width="2.6" fill="none"/><path d="M931,773.5H1036" stroke="#0b0b0b" stroke-width="4.4" fill="none"/><path d="M1038,716 L1058,707 L1253,707 L1253,812 L1058,812 L1038,802Z" fill="url(#shank)"/><path d="M1040,784 L1060,795.5 L1253,795.5 L1253,808 L1060,808 L1040,791Z" fill="#4790a6"/><path d="M1038,716 L1058,707 L1253,707 M1038,802 L1058,812 L1253,812" stroke="#0b0b0b" stroke-width="2.6" fill="none"/><path d="M1040,780.5H1253" stroke="#0b0b0b" stroke-width="4.2" fill="none"/><path d="M928,706 C940,725 946,760 951,785 C954,798 956,805 960,811 L955,810 C947,795 940,760 932,724Z" fill="#d0d0d0" stroke="#0b0b0b" stroke-width="5.2"/><path d="M986,708 C994,716 999,740 1004,768 C1007,788 1011,802 1015,810.5 L1011,810 C1004,800 998,780 993,755 C989,735 986,722 982,716Z" fill="#d0d0d0" stroke="#0b0b0b" stroke-width="5.2"/><path d="M1253,707 L1297,669.5 Q1306,669 1306,680 L1306,840 Q1306,851 1297,850 L1253,812Z" fill="url(#head)" stroke="#0b0b0b" stroke-width="2.6"/><path d="M1297.5,672 L1297.5,848" stroke="#7d8a92" stroke-width="3" fill="none"/><path d="M1302.5,674 L1302.5,846" stroke="#9aa7ae" stroke-width="4" fill="none"/><path d="M1253,707 L1297,669.5 Q1306,669 1306,680 L1306,840 Q1306,851 1297,850 L1253,812Z" fill="none" stroke="#0b0b0b" stroke-width="2.6"/><path d="M1306,705 L1410,693.5 L1510,693.5 L1510,823.5 L1410,823.5 L1306,812Z" fill="url(#bit)" stroke="#0b0b0b" stroke-width="2.8"/><path d="M1306,714 C1350,711 1395,710 1410,722 Q1420,732 1400,738 C1370,744 1330,745 1306,748Z" fill="url(#flute)" stroke="#0b0b0b" stroke-width="2.6"/><path d="M1306,771 C1350,772 1395,776 1410,790 Q1418,800 1400,804 C1370,806 1330,806 1306,800Z" fill="url(#flute)" stroke="#0b0b0b" stroke-width="2.6"/></g>
<g id="arrow" stroke-linejoin="round"><path d="M1244,452 Q1252,449 1260,450 C1272,456 1284,478 1294,525.5 L1331.5,526 L1271,615.5 L1219.5,531 L1252,527.5 C1249,508 1244,492 1237,476Z" fill="#c5120f" stroke="#1a0503" stroke-width="2.6"/><path d="M1256,986 L1296,986 C1292,1012 1284,1044 1266,1068 Q1260,1075 1246,1075 L1239,1052 C1246,1034 1251,1012 1256,986Z" fill="#c5120f" stroke="#1a0503" stroke-width="2.6"/><path d="M1212,450 L1244,452 C1230,488 1220,530 1213,590 C1205,650 1200,720 1200,780 C1202,840 1208,900 1218,970 C1226,1015 1236,1050 1246,1075 L1214,1074.5 C1196,1050 1182,1005 1172,940 C1163,880 1160,830 1160,760 C1160,690 1165,620 1176,550 C1185,500 1198,464 1212,450Z" fill="#e30613" stroke="#1a0503" stroke-width="2.6"/></g>
</g>
</svg>
</body>
</html>
